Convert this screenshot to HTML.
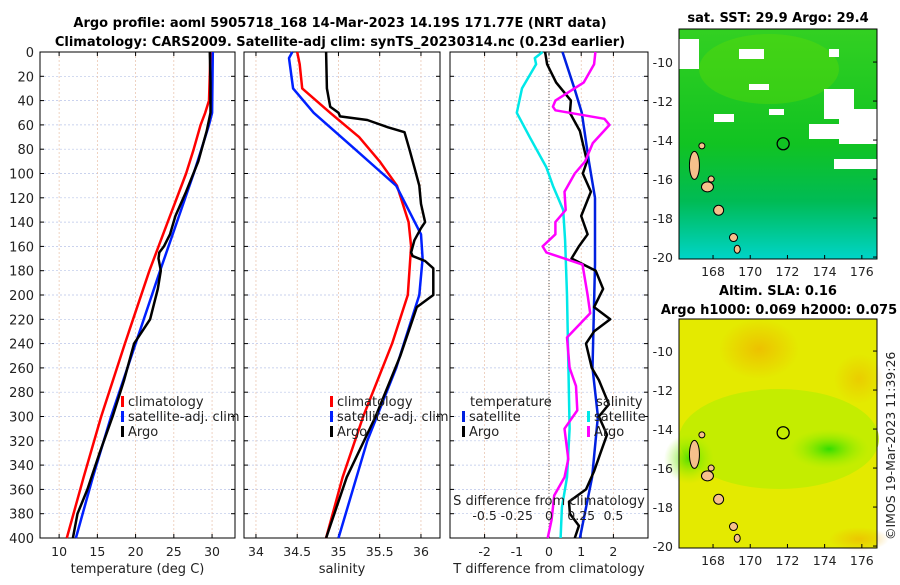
<!DOCTYPE html>
<html><head><meta charset="utf-8"><style>
body{margin:0;background:#fff;width:900px;height:580px;overflow:hidden;font-family:"Liberation Sans","DejaVu Sans",sans-serif}
svg text{font-family:"DejaVu Sans","Liberation Sans",sans-serif}
</style></head><body>
<svg id="fig" width="900" height="580" viewBox="0 0 900 580" xmlns="http://www.w3.org/2000/svg">
<defs>
<linearGradient id="sstg" x1="0" y1="0" x2="0" y2="1">
<stop offset="0" stop-color="#33d022"/><stop offset="0.5" stop-color="#11c322"/><stop offset="0.75" stop-color="#00bb55"/><stop offset="1" stop-color="#00d4c8"/></linearGradient>
<radialGradient id="o1" cx="0.5" cy="0.5" r="0.5"><stop offset="0" stop-color="#f0b000"/><stop offset="1" stop-color="#f0b000" stop-opacity="0"/></radialGradient>
<radialGradient id="g1" cx="0.5" cy="0.5" r="0.5"><stop offset="0" stop-color="#33dd00"/><stop offset="1" stop-color="#99ee00" stop-opacity="0"/></radialGradient>
</defs>
<text x="340" y="27" font-size="13" font-weight="bold" text-anchor="middle">Argo profile: aoml 5905718_168 14-Mar-2023 14.19S 171.77E (NRT data)</text>
<text x="340" y="46" font-size="13" font-weight="bold" text-anchor="middle">Climatology: CARS2009. Satellite-adj clim: synTS_20230314.nc (0.23d earlier)</text>
<g id="p1"></g>
<g id="p2"></g>
<g id="p3"></g>
<g id="maps"></g>
<text transform="translate(895,540) rotate(-90)" font-size="12.5" fill="#222">©IMOS 19-Mar-2023 11:39:26</text>
</svg>
<script>
const depthTicks=[0,20,40,60,80,100,120,140,160,180,200,220,240,260,280,300,320,340,360,380,400];
const tempTicks=[10,15,20,25,30];
const salTicks=[34,34.5,35,35.5,36];
const tdTicks=[-2,-1,0,1,2];
const sdTicks=[-0.5,-0.25,0,0.25,0.5];
const sdTickLabels=["-0.5","-0.25","0","0.25","0.5"];
// temperature profiles
const tClimD=[0,40,50,60,80,100,140,180,240,300,350,400];
const tClimV=[29.8,29.6,29.1,28.5,27.6,26.6,24.2,21.8,18.6,15.5,13.2,11.0];
const tSatD=[0,50,60,80,100,140,180,240,300,350,400];
const tSatV=[30.1,30.0,29.6,28.6,27.6,25.4,23.2,20.0,16.8,14.4,12.2];
const tArgoD=[0,25,50,65,90,115,135,150,160,165,170,180,195,220,240,270,300,330,360,380,400];
const tArgoV=[29.7,29.8,29.8,29.3,28.2,26.6,25.2,24.5,23.7,23.1,23.0,23.3,22.9,21.9,19.8,18.5,17.0,15.3,13.7,12.4,11.8];
// salinity profiles
const sClimD=[0,10,30,50,70,90,110,140,160,200,240,300,350,400];
const sClimV=[34.5,34.53,34.56,34.9,35.25,35.5,35.71,35.85,35.88,35.84,35.65,35.3,35.05,34.85];
const sSatD=[0,5,30,50,80,110,150,170,200,260,320,400];
const sSatV=[34.44,34.4,34.45,34.7,35.2,35.7,36.0,36.02,35.98,35.7,35.35,35.0];
const sArgoD=[0,30,45,50,53,56,62,66,80,95,110,125,140,145,155,165,168,172,178,200,210,220,250,300,350,400];
const sArgoV=[34.85,34.86,34.9,35.0,35.02,35.35,35.6,35.8,35.86,35.92,35.98,36.0,36.05,36.0,35.92,35.88,35.9,36.05,36.15,36.15,35.95,35.9,35.75,35.45,35.1,34.85];
// differences
const dTSatD=[0,31,50,90,120,175,260,300,350,400];
const dTSatV=[0.42,0.8,1.02,1.24,1.43,1.43,1.35,1.52,1.34,0.96];
const dTArgoD=[0,10,25,40,50,65,90,100,115,135,150,160,170,180,195,210,220,230,240,260,270,290,300,315,330,345,360,370,380,390,400];
const dTArgoV=[-0.12,-0.06,0.22,0.68,0.65,0.96,1.18,1.05,1.3,1.0,1.2,0.93,0.7,1.45,1.68,1.4,1.9,1.4,1.15,1.33,1.55,1.86,1.55,1.8,1.6,1.4,1.15,0.62,0.65,0.93,0.8];
const dSSatD=[0,5,10,30,50,70,95,110,130,155,200,255,310,350,375,400];
const dSSatV=[-0.05,-0.11,-0.1,-0.21,-0.25,-0.15,-0.02,0.03,0.11,0.125,0.14,0.15,0.16,0.14,0.1,0.09];
const dSArgoD=[0,10,25,40,45,48,55,60,75,90,100,115,130,140,150,160,165,175,200,215,235,260,275,295,310,335,350,365,385,400];
const dSArgoV=[0.36,0.35,0.27,0.05,0.03,0.05,0.43,0.47,0.34,0.28,0.2,0.12,0.13,0.05,0.05,-0.05,-0.02,0.26,0.3,0.32,0.14,0.16,0.21,0.22,0.12,0.15,0.12,0.04,0.02,-0.01];

const NS="http://www.w3.org/2000/svg";
const Y0=52,Y1=538;
const yD=d=>Y0+(d/400)*(Y1-Y0);
function el(p,tag,a){const e=document.createElementNS(NS,tag);for(const k in a)e.setAttribute(k,a[k]);p.appendChild(e);return e;}
function panel(g,x0,x1,xs,ticks,labels,showDepth,xlabel){
  for(const d of depthTicks){const l=el(g,'line',{x1:x0,x2:x1,y1:yD(d),y2:yD(d),stroke:'#b8c4e8','stroke-width':0.7,'stroke-dasharray':'2,2'});
    
    el(g,'line',{x1:x0,x2:x0+4,y1:yD(d),y2:yD(d),stroke:'#000'});el(g,'line',{x1:x1-4,x2:x1,y1:yD(d),y2:yD(d),stroke:'#000'});
    if(showDepth){const t=el(g,'text',{x:x0-6,y:yD(d)+5,'font-size':13,'text-anchor':'end',fill:'#222'});t.textContent=d;
      }}
  ticks.forEach((v,i)=>{const x=xs(v);
    const l=el(g,'line',{x1:x,x2:x,y1:Y0,y2:Y1,stroke:'#e8c0a8','stroke-width':0.7,'stroke-dasharray':'2,2'});
    
    el(g,'line',{x1:x,x2:x,y1:Y1,y2:Y1-4,stroke:'#000'});el(g,'line',{x1:x,x2:x,y1:Y0,y2:Y0+4,stroke:'#000'});
    const t=el(g,'text',{x:x,y:556,'font-size':12.5,'text-anchor':'middle',fill:'#222'});t.textContent=labels[i];
    });
  const b=el(g,'rect',{x:x0,y:Y0,width:x1-x0,height:Y1-Y0,fill:'none',stroke:'#000','stroke-width':1});
  
  const t=el(g,'text',{x:(x0+x1)/2,y:573,'font-size':13,'text-anchor':'middle',fill:'#222'});t.textContent=xlabel;
  
}
function line(g,xs,D,V,col,w,name){const pts=D.map((d,i)=>xs(V[i]).toFixed(1)+','+yD(d).toFixed(1)).join(' ');
  const p=el(g,'polyline',{points:pts,fill:'none',stroke:col,'stroke-width':w,'stroke-linejoin':'round'});
  }
function legend(g,x,y,items,font){items.forEach((it,i)=>{el(g,'rect',{x:x,y:y+i*15-10,width:3,height:11,fill:it[1]});
  const t=el(g,'text',{x:x+7,y:y+i*15,'font-size':font||13,fill:'#222'});t.textContent=it[0];
  });}

const g1=document.getElementById('p1'),g2=document.getElementById('p2'),g3=document.getElementById('p3');
const xT=v=>40+(v-7.5)*(195/25.5);
panel(g1,40,235,xT,tempTicks,tempTicks.map(String),true,'temperature (deg C)');
line(g1,xT,tClimD,tClimV,'#f00',2.5,'temp-climatology-line');
line(g1,xT,tSatD,tSatV,'#0020ff',2.5,'temp-satellite-line');
line(g1,xT,tArgoD,tArgoV,'#000',2.5,'temp-argo-line');
legend(g1,121,406,[['climatology','#f00'],['satellite-adj. clim','#0020ff'],['Argo','#000']]);

const xS=v=>244+(v-33.855)*82.5;
panel(g2,244,440,xS,salTicks,salTicks.map(String),false,'salinity');
line(g2,xS,sClimD,sClimV,'#f00',2.5,'sal-climatology-line');
line(g2,xS,sSatD,sSatV,'#0020ff',2.5,'sal-satellite-line');
line(g2,xS,sArgoD,sArgoV,'#000',2.5,'sal-argo-line');
legend(g2,330,406,[['climatology','#f00'],['satellite-adj. clim','#0020ff'],['Argo','#000']]);

const xD=v=>549+v*32.2;
const xSD=v=>xD(v*4);
panel(g3,450,648,xD,tdTicks,tdTicks.map(String),false,'T difference from climatology');
const z=el(g3,'line',{x1:xD(0),x2:xD(0),y1:Y0,y2:Y1,stroke:'#555','stroke-width':1,'stroke-dasharray':'1,2'});

line(g3,xSD,dSSatD,dSSatV,'#00e8e8',2.5,'sal-diff-satellite-line');
line(g3,xD,dTSatD,dTSatV,'#0020e0',2.5,'temp-diff-satellite-line');
line(g3,xD,dTArgoD,dTArgoV,'#000',2.5,'temp-diff-argo-line');
line(g3,xSD,dSArgoD,dSArgoV,'#ff00ff',2.5,'sal-diff-argo-line');
let t=el(g3,'text',{x:470,y:406,'font-size':13,fill:'#222'});t.textContent='temperature';
t=el(g3,'text',{x:596,y:406,'font-size':13,fill:'#222'});t.textContent='salinity';
legend(g3,462,421,[['satellite','#0020e0'],['Argo','#000']]);
legend(g3,587,421,[['satellite','#00e8e8'],['Argo','#ff00ff']]);
t=el(g3,'text',{x:549,y:505,'font-size':13,'text-anchor':'middle',fill:'#222'});t.textContent='S difference from climatology';

sdTicks.forEach((v,i)=>{const tt=el(g3,'text',{x:xSD(v),y:520,'font-size':12.5,'text-anchor':'middle',fill:'#222'});tt.textContent=sdTickLabels[i];
  });

// maps
const M=document.getElementById('maps');
const latTicks=[-10,-12,-14,-16,-18,-20],lonTicks=[168,170,172,174,176];
const argoLon=171.77,argoLat=-14.19;
function map(top,bottomY,fillFn){
  const x0=679,x1=877;const lx=v=>x0+(v-166.17)*18.6;const ly=v=>bottomY-(v+20.1)*19.5;
  fillFn(x0,top,x1-x0,bottomY-top);
  [[167,-15.3,5,14],[167.7,-16.4,6,5],[168.3,-17.6,5,5],[169.1,-19,4,4],[169.3,-19.6,3,4],[167.9,-16.0,3,3],[167.4,-14.3,3,3]].forEach(p=>{
    const e=el(M,'ellipse',{cx:lx(p[0]),cy:ly(p[1]),rx:p[2],ry:p[3],fill:'#f6c08c',stroke:'#000','stroke-width':1});
    });
  const c=el(M,'circle',{cx:lx(argoLon),cy:ly(argoLat),r:6,fill:'none',stroke:'#000','stroke-width':1.3});
  
  el(M,'rect',{x:x0,y:top,width:x1-x0,height:bottomY-top,fill:'none',stroke:'#000'});
  latTicks.forEach(v=>{el(M,'line',{x1:x1,x2:x1-4,y1:ly(v),y2:ly(v),stroke:'#000'});
    const tt=el(M,'text',{x:x0-6,y:ly(v)+5,'font-size':12.5,'text-anchor':'end',fill:'#222'});tt.textContent=v;
    });
  lonTicks.forEach(v=>{el(M,'line',{x1:lx(v),x2:lx(v),y1:bottomY,y2:bottomY-4,stroke:'#000'});
    const tt=el(M,'text',{x:lx(v),y:bottomY+17,'font-size':12.5,'text-anchor':'middle',fill:'#222'});tt.textContent=v;
    });
}
map(29,259,(x,y,w,h)=>{
  el(M,'rect',{x:x,y:y,width:w,height:h,fill:'url(#sstg)'});
  el(M,'ellipse',{cx:x+90,cy:y+40,rx:70,ry:35,fill:'#66dd00',opacity:0.35});
  [[x+60,y+20,25,10],[x+150,y+20,10,8],[x,y+10,20,30],[x+145,y+60,30,30],[x+160,y+80,40,35],[x+130,y+95,70,15],[x+155,y+130,45,10],[x+90,y+80,15,6],[x+35,y+85,20,8],[x+70,y+55,20,6]].forEach(r=>
    el(M,'rect',{x:r[0],y:r[1],width:r[2],height:r[3],fill:'#fff'}));
});
map(319,548,(x,y,w,h)=>{
  el(M,'rect',{x:x,y:y,width:w,height:h,fill:'#e4ea00'});
  el(M,'ellipse',{cx:x+100,cy:y+120,rx:100,ry:50,fill:'#bbee00',opacity:0.8});
  el(M,'ellipse',{cx:x+150,cy:y+130,rx:40,ry:20,fill:'url(#g1)'});
  el(M,'ellipse',{cx:x+80,cy:y+30,rx:40,ry:30,fill:'url(#o1)',opacity:0.7});
  el(M,'ellipse',{cx:x+180,cy:y+60,rx:25,ry:25,fill:'url(#o1)',opacity:0.5});
  el(M,'ellipse',{cx:x+180,cy:y+220,rx:30,ry:12,fill:'url(#o1)',opacity:0.6});
  el(M,'ellipse',{cx:x+10,cy:y+140,rx:25,ry:25,fill:'url(#g1)',opacity:0.8});
});
t=el(M,'text',{x:778,y:22,'font-size':13,'font-weight':'bold','text-anchor':'middle'});t.textContent='sat. SST: 29.9 Argo: 29.4';

t=el(M,'text',{x:778,y:295,'font-size':13,'font-weight':'bold','text-anchor':'middle'});t.textContent='Altim. SLA: 0.16';

t=el(M,'text',{x:779,y:314,'font-size':13,'font-weight':'bold','text-anchor':'middle'});t.textContent='Argo h1000: 0.069 h2000: 0.075';

</script>
</body></html>
